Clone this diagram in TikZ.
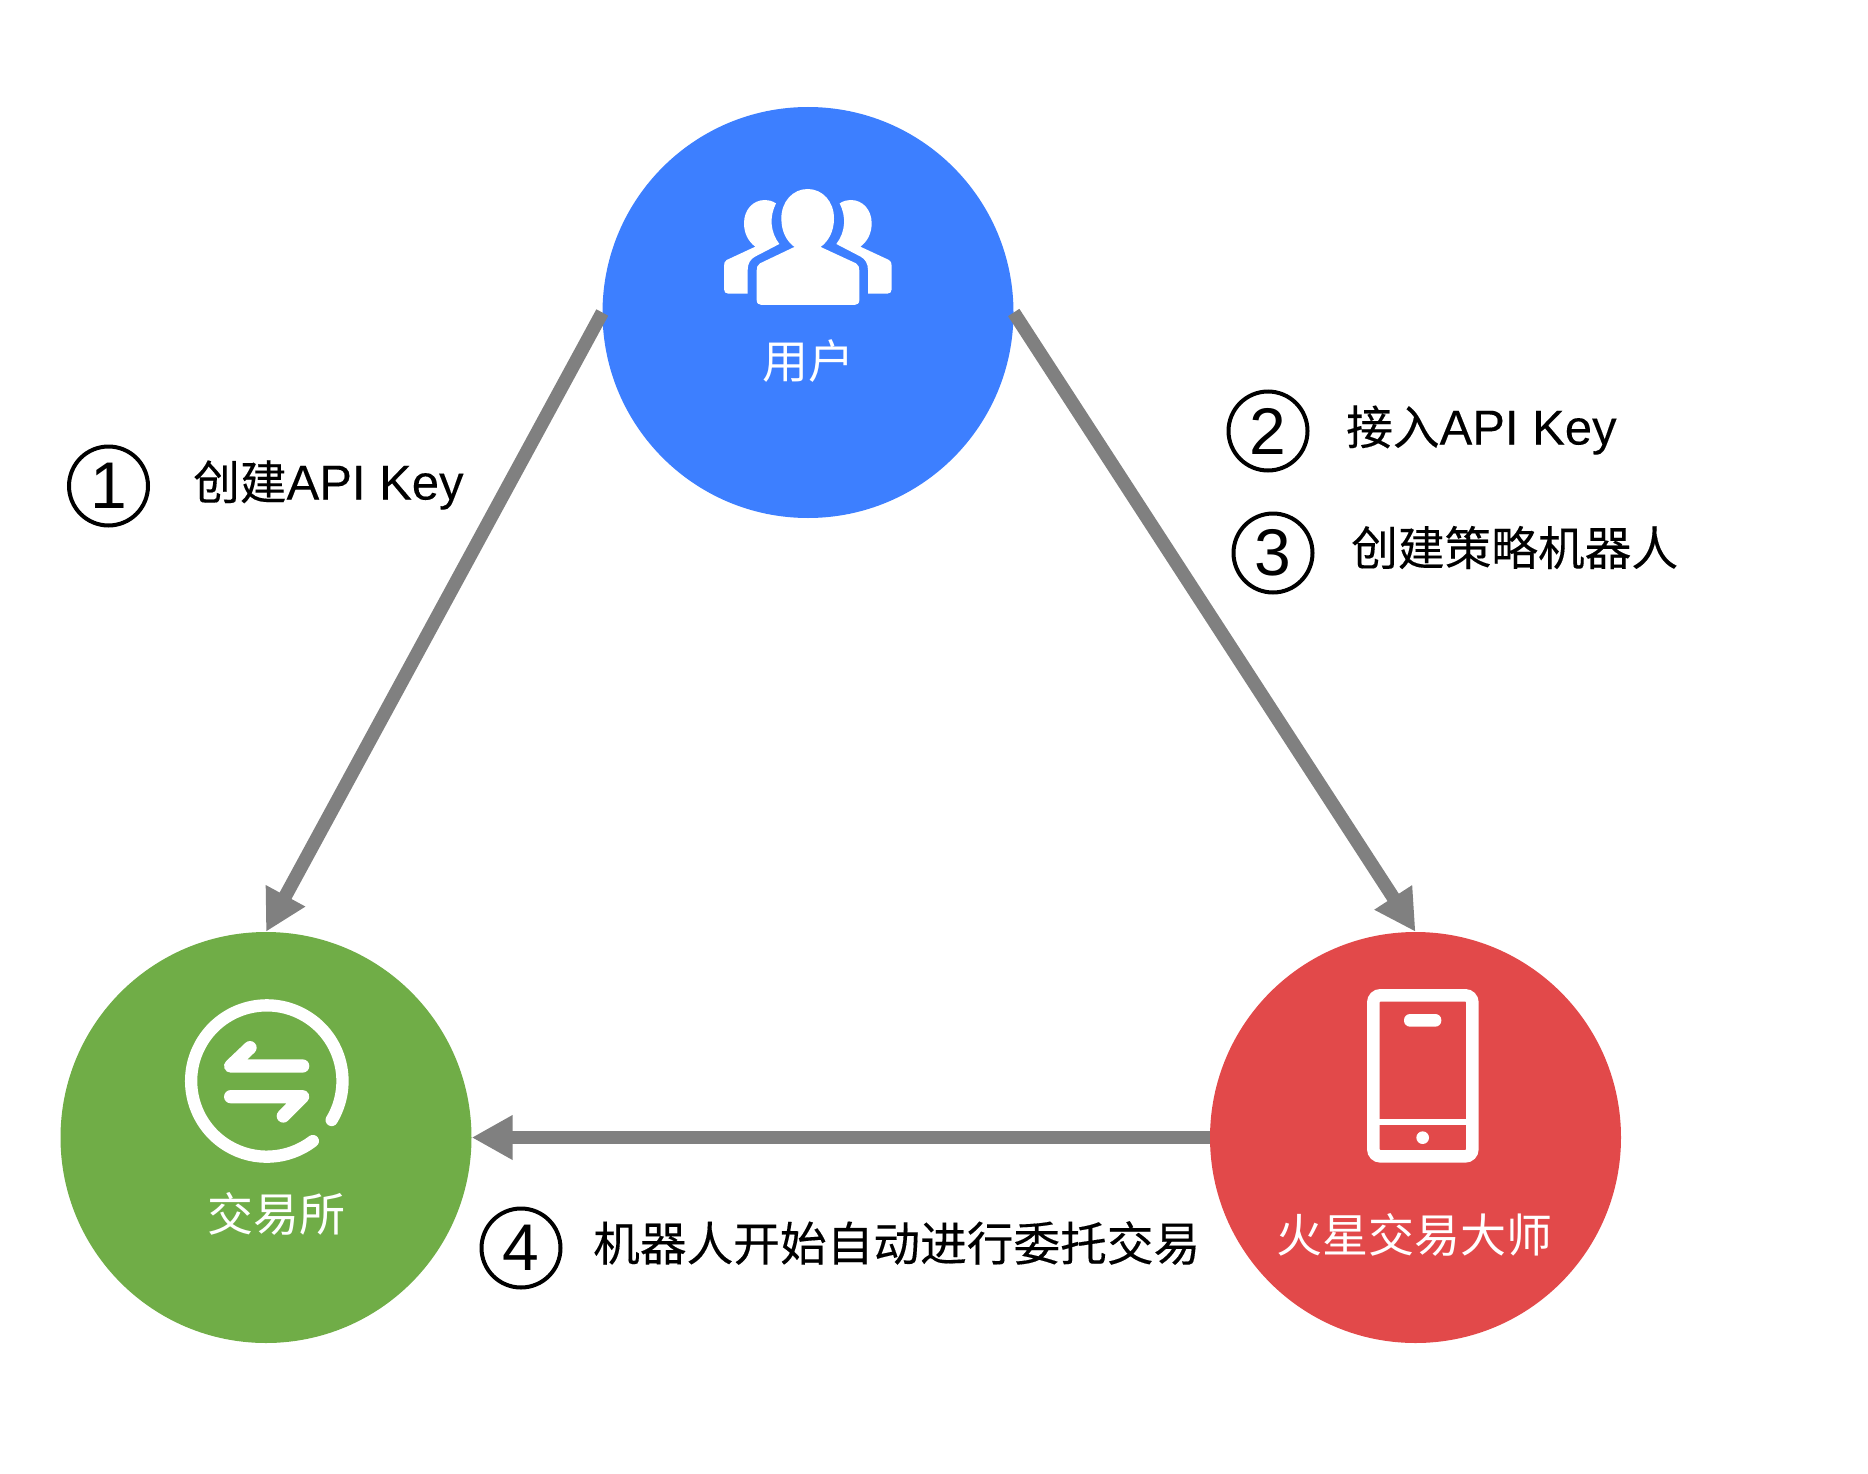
\documentclass[tikz,border=0pt]{standalone}
\usepackage{fontspec}
\setmainfont{Liberation Sans}
\newfontfamily\cjk{Noto Sans CJK SC}
\newfontfamily\cjkb[FakeBold=0.25]{Noto Sans CJK SC}
\newfontfamily\latb[FakeBold=0.15]{Liberation Sans}
\usetikzlibrary{arrows.meta}
\definecolor{ublue}{HTML}{3D7FFF}
\definecolor{ugreen}{HTML}{70AD47}
\definecolor{ured}{HTML}{E2494A}
\definecolor{ugrey}{HTML}{808080}
\newcommand{\lab}[1]{\fontsize{#1}{#1}\selectfont\cjk}
\newcommand{\labb}[1]{\fontsize{#1}{#1}\selectfont\cjkb}
\tikzset{
  hub/.style={circle,draw=none,inner sep=0pt,minimum size=411pt},
  flow/.style={draw=ugrey,line width=13.5pt,-{Triangle[length=41pt,width=42pt]},shorten <=0pt},
  num/.style={circle,draw=black,line width=4pt,minimum size=79pt,inner sep=0pt,font=\fontsize{66}{66}\selectfont},
  wl/.style={text=white,inner sep=0pt,font=\lab{45}},
  bl/.style={text=black,inner sep=0pt,anchor=west,font=\labb{46.7}},
  zm/.style={x=0.33333pt,y=-0.33333pt},
  iconline/.style={draw=white,line cap=round,line join=round}
}
\begin{document}
\begin{tikzpicture}[x=1pt,y=-1pt]
\useasboundingbox (0,0) rectangle (1868,1474);
\node[hub,fill=ublue] (user) at (808,312.5) {};
\node[hub,fill=ugreen] (ex) at (266,1137.5) {};
\node[hub,fill=ured] (mars) at (1415.5,1137.5) {};
\draw[flow] (user.west) -- (ex.north);
\draw[flow] (user.east) -- (mars.north);
\draw[flow] (mars.west) -- (ex.east);
% users icon
\begin{scope}[shift={(680,160)},zm]
\fill[white] (345,262) .. controls (320,245) and (304,215) .. (304,175) .. controls (304,125) and (338,87) .. (383,87) .. controls (428,87) and (462,125) .. (462,175) .. controls (462,215) and (445,245) .. (420,262) -- cycle;
\fill[white] (345,260) -- (240,310) .. controls (232,315) and (230,322) .. (230,332) -- (230,420) .. controls (230,430) and (236,435) .. (245,435) -- (523,435) .. controls (532,435) and (538,430) .. (538,420) -- (538,332) .. controls (538,322) and (536,315) .. (528,310) -- (420,260) -- cycle;
\fill[white] (288,130) .. controls (275,122) and (265,120) .. (255,120) .. controls (218,120) and (192,150) .. (192,190) .. controls (192,220) and (205,245) .. (226,260) -- (140,300) .. controls (134,303) and (132,310) .. (132,318) -- (132,388) .. controls (132,396) and (137,401) .. (145,401) -- (203,401) -- (203,330) .. controls (203,310) and (212,297) .. (225,290) -- (298,252) .. controls (270,215) and (268,170) .. (288,130) -- cycle;
\fill[white] (479,130) .. controls (492,122) and (502,120) .. (512,120) .. controls (549,120) and (575,150) .. (575,190) .. controls (575,220) and (562,245) .. (541,260) -- (627,300) .. controls (633,303) and (635,310) .. (635,318) -- (635,388) .. controls (635,396) and (630,401) .. (622,401) -- (564,401) -- (564,330) .. controls (564,310) and (555,297) .. (542,290) -- (469,252) .. controls (497,215) and (499,170) .. (479,130) -- cycle;
\end{scope}
% exchange icon
\begin{scope}[shift={(160,980)},zm]
\draw[iconline,line width=12.3pt] (515,420) arc [start angle=31,end angle=-307.5,radius=227];
\draw[iconline,line width=13.3pt] (270,203) -- (212,258) -- (428,258);
\draw[iconline,line width=13.3pt] (212,350) -- (428,350) -- (370,408);
\end{scope}
% phone icon
\begin{scope}[shift={(1340,970)},zm]
\draw[draw=white,line width=12.5pt,rounded corners=7pt] (100,76) rectangle (397,559);
\fill[white] (118,447) rectangle (378,466);
\fill[white,rounded corners=6pt] (192,132) rectangle (304,170);
\fill[white] (248,503) circle [radius=19];
\end{scope}
\node[wl,font=\lab{46}] (tuser) at (808,361) {用户};
\node[wl,font=\lab{46}] (tex) at (276,1214) {交易所};
\node[wl,font=\lab{46}] (tmars) at (1414,1235) {火星交易大师};
\node[num] (n1) at (108.5,486) {1};
\node[num] (n2) at (1268,431) {2};
\node[num] (n3) at (1273,553) {3};
\node[num] (n4) at (521,1248) {4};
\node[bl] (t1) at (193,485) {创建{\fontsize{49}{49}\selectfont\latb API Key}};
\node[bl] (t2) at (1346,430) {接入{\fontsize{49}{49}\selectfont\latb API Key}};
\node[bl] (t3) at (1351,547.5) {创建策略机器人};
\node[bl] (t4) at (593,1243) {机器人开始自动进行委托交易};
\end{tikzpicture}
\end{document}
